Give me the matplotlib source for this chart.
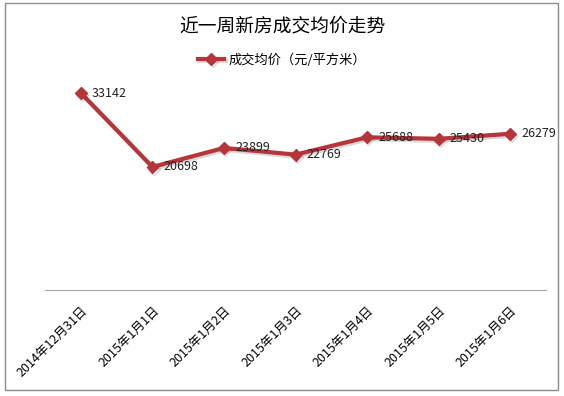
import matplotlib.pyplot as plt
from matplotlib.patches import Rectangle
import matplotlib.patheffects as pe

plt.rcParams['font.family'] = ['Noto Sans CJK SC', 'DejaVu Sans']

# data
dates = ["2014年12月31日", "2015年1月1日", "2015年1月2日", "2015年1月3日",
         "2015年1月4日", "2015年1月5日", "2015年1月6日"]
prices = [33142, 20698, 23899, 22769, 25688, 25430, 26279]

fig = plt.figure(figsize=(5.64, 3.96), dpi=100)
ax = fig.add_axes([0.080, 0.268, 0.888, 0.525])

x = list(range(len(dates)))
ax.plot(x, prices, color='#b5353b', linewidth=3, marker='D', markersize=6,
        label='成交均价（元/平方米）',
        path_effects=[pe.SimpleLineShadow(offset=(1, -1.5), alpha=0.15), pe.Normal()])

# value labels
for xi, v in zip(x, prices):
    ax.annotate(str(v), (xi, v), xytext=(8, 0), textcoords='offset points',
                ha='left', va='center', fontsize=9, color='#222222')

ax.set_xlim(-0.5, len(dates) - 0.5)
ax.set_ylim(0, 35000)
ax.set_xticks(x)
ax.set_xticklabels(dates, rotation=45, ha='right', rotation_mode='anchor', fontsize=9)
ax.tick_params(axis='x', length=0, pad=10)
ax.set_yticks([])

for s in ['top', 'right', 'left']:
    ax.spines[s].set_visible(False)
ax.spines['bottom'].set_color('#a6a6a6')

fig.text(0.5, 0.935, '近一周新房成交均价走势', ha='center', va='center', fontsize=13.5)
ax.legend(loc='center', bbox_to_anchor=(0.5, 0.848), bbox_transform=fig.transFigure,
          frameon=False, fontsize=9.5, handlelength=2.0, handletextpad=0.3)

# outer border
fig.patches.append(Rectangle((0.009, 0.015), 0.981, 0.977, transform=fig.transFigure,
                             fill=False, edgecolor='#8c8c8c', linewidth=1))

fig.savefig('out.png', dpi=100)
